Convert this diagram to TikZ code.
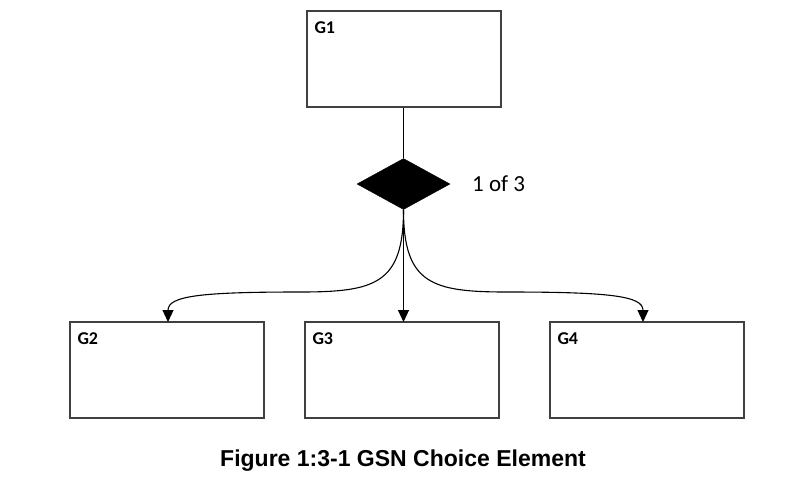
\documentclass[tikz,border=0pt]{standalone}
\usepackage{fontspec}
\setmainfont{Carlito}
\newfontfamily\capfont{Liberation Sans}
\usetikzlibrary{arrows.meta,shapes.geometric}
\definecolor{boxline}{HTML}{404040}
\begin{document}
\begin{tikzpicture}[x=1pt,y=-1pt,
  goalbox/.style={draw=boxline,line width=1.4pt,fill=white,minimum width=194pt,minimum height=96pt,inner sep=0pt},
  glabel/.style={font=\fontsize{18}{20}\selectfont\bfseries,anchor=north west,inner sep=0pt},
  conn/.style={line width=1.1pt,draw=black},
  tip/.style={-{Triangle[length=12pt,width=11pt]}}]
\useasboundingbox (0,0) rectangle (809,483);
\node[goalbox] (g1) at (404,59) {};
\node[glabel] at ([xshift=8pt,yshift=-11pt]g1.north west) {G1};
\node[diamond,fill=black,minimum width=93pt,minimum height=51pt,inner sep=0pt,draw=black] (ch) at (403.5,184) {};
\node[font=\fontsize{23}{25}\selectfont,anchor=west,inner sep=0pt] (lab) at (472,184) {1 of 3};
\node[goalbox] (g2) at (167,370) {};
\node[glabel] at ([xshift=8pt,yshift=-11pt]g2.north west) {G2};
\node[goalbox] (g3) at (402,370) {};
\node[glabel] at ([xshift=8pt,yshift=-11pt]g3.north west) {G3};
\node[goalbox] (g4) at (647,370) {};
\node[glabel] at ([xshift=8pt,yshift=-11pt]g4.north west) {G4};
\coordinate (t2) at (168,322);
\coordinate (t3) at (403.5,322);
\coordinate (t4) at (643,322);
\draw[conn] (g1.south -| ch.north) -- (ch.north);
\draw[conn,tip] (ch.south) .. controls (403.5,284) and (375,292) .. (300,292) .. controls (200,292) and (168,296) .. (t2);
\draw[conn,tip] (ch.south) -- (t3);
\draw[conn,tip] (ch.south) .. controls (403.5,284) and (432,292) .. (507,292) .. controls (610,292) and (643,296) .. (t4);
\node[font=\capfont\fontsize{23}{27}\selectfont\bfseries] (cap) at (403,461) {Figure 1:3-1 GSN Choice Element};
\end{tikzpicture}
\end{document}
